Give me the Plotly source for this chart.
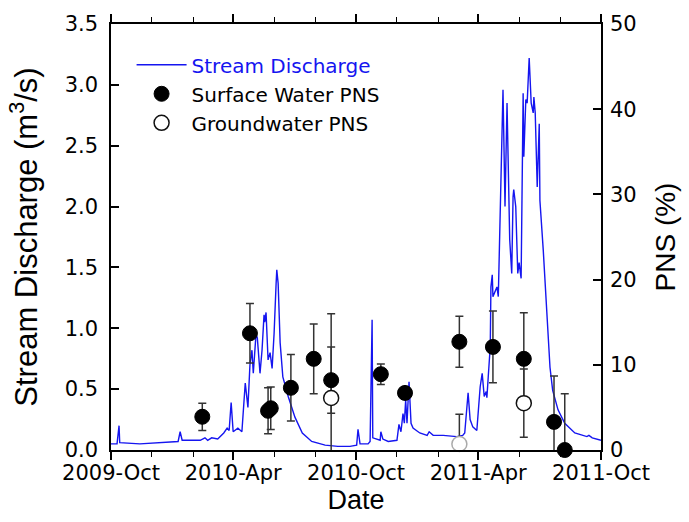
import plotly.graph_objects as go

# Stream discharge record (m3/s)
q_dates = [
    "2009-10-01", "2009-10-10", "2009-10-13", "2009-10-14", "2009-11-13", "2009-12-13",
    "2010-01-09", "2010-01-12", "2010-01-15", "2010-02-11", "2010-02-18", "2010-02-22",
    "2010-02-28", "2010-03-09", "2010-03-18", "2010-03-23", "2010-03-26", "2010-03-29",
    "2010-04-01", "2010-04-08", "2010-04-14", "2010-04-19", "2010-04-23", "2010-04-26",
    "2010-04-29", "2010-05-01", "2010-05-05", "2010-05-07", "2010-05-08", "2010-05-11",
    "2010-05-14", "2010-05-17", "2010-05-18", "2010-05-20", "2010-05-23", "2010-05-26",
    "2010-05-29", "2010-06-01", "2010-06-04", "2010-06-05", "2010-06-07", "2010-06-10",
    "2010-06-14", "2010-06-22", "2010-07-02", "2010-07-13", "2010-07-27", "2010-08-16",
    "2010-09-04", "2010-09-22", "2010-10-02", "2010-10-04", "2010-10-07", "2010-10-19",
    "2010-10-22", "2010-10-25", "2010-10-26", "2010-11-06", "2010-11-07", "2010-11-10",
    "2010-11-18", "2010-12-01", "2010-12-04", "2010-12-07", "2010-12-10", "2010-12-12",
    "2010-12-14", "2010-12-16", "2010-12-19", "2010-12-22", "2010-12-25", "2011-01-04",
    "2011-01-15", "2011-01-18", "2011-01-24", "2011-02-08", "2011-02-28", "2011-03-09",
    "2011-03-12", "2011-03-17", "2011-03-20", "2011-03-24", "2011-03-30", "2011-04-04",
    "2011-04-07", "2011-04-10", "2011-04-13", "2011-04-14", "2011-04-16", "2011-04-19",
    "2011-04-20", "2011-04-22", "2011-04-23", "2011-04-29", "2011-05-01", "2011-05-08",
    "2011-05-11", "2011-05-14", "2011-05-18", "2011-05-21", "2011-05-23", "2011-05-24",
    "2011-05-27", "2011-05-30", "2011-06-01", "2011-06-04", "2011-06-07", "2011-06-08",
    "2011-06-11", "2011-06-13", "2011-06-16", "2011-06-19", "2011-06-22", "2011-06-23",
    "2011-06-25", "2011-06-28", "2011-07-01", "2011-07-02", "2011-07-07", "2011-07-10",
    "2011-07-13", "2011-07-17", "2011-07-21", "2011-07-29", "2011-08-08", "2011-08-23",
    "2011-09-10", "2011-09-13", "2011-09-18", "2011-10-01",
]
q_values = [
    0.05, 0.05, 0.20, 0.06, 0.05, 0.06,
    0.07, 0.15, 0.08, 0.08, 0.10, 0.08,
    0.10, 0.09, 0.14, 0.18, 0.16, 0.39,
    0.15, 0.18, 0.15, 0.55, 0.35, 0.70,
    0.82, 0.63, 0.95, 0.92, 0.85, 0.63,
    0.82, 1.11, 1.05, 1.13, 0.74, 0.80,
    0.67, 0.96, 1.37, 1.48, 1.37, 0.88,
    0.60, 0.44, 0.27, 0.14, 0.07, 0.04,
    0.03, 0.03, 0.04, 0.17, 0.05, 0.05,
    0.07, 1.07, 0.10, 0.08, 0.15, 0.09,
    0.07, 0.08, 0.21, 0.15, 0.30, 0.22,
    0.41, 0.22, 0.56, 0.22, 0.18, 0.14,
    0.12, 0.15, 0.12, 0.12, 0.11, 0.12,
    0.14, 0.47, 0.25, 0.19, 0.16, 0.52,
    0.63, 0.44, 0.48, 0.43, 0.60, 0.85,
    1.34, 1.44, 1.26, 1.34, 1.26, 2.96,
    2.00, 2.85, 1.73, 1.45, 2.08, 2.14,
    2.00, 1.45, 1.54, 1.41, 2.93, 2.41,
    2.88, 2.85, 3.22, 2.85, 2.77, 2.90,
    2.77, 2.16, 2.68, 2.05, 1.64, 1.35,
    0.99, 0.68, 0.49, 0.33, 0.22, 0.14,
    0.11, 0.12, 0.10, 0.08,
]

# Surface water PNS (%) with error
sw_dates = [
    "2010-02-14", "2010-04-26", "2010-05-23", "2010-05-27", "2010-06-26", "2010-07-30",
    "2010-08-25", "2010-11-07", "2010-12-13", "2011-03-04", "2011-04-23", "2011-06-08",
    "2011-07-23", "2011-08-08",
]
sw_pns = [3.9, 13.7, 4.6, 4.9, 7.3, 10.7, 8.2, 8.9, 6.7, 12.7, 12.1, 10.7, 3.3, 0.0]
sw_err = [1.6, 3.5, 2.7, 2.5, 3.9, 4.1, 3.9, 1.2, 0.7, 3.0, 4.2, 5.4, 5.4, 6.6]

# Groundwater PNS (%) with error
gw_dates = ["2010-08-25", "2011-03-04", "2011-06-08"]
gw_pns = [6.1, 0.7, 5.5]
gw_err = [9.9, 3.5, 4.0]
gw_edge = ["#111111", "#aaaaaa", "#111111"]

x_ticks = ["2009-10-01", "2010-04-01", "2010-10-01", "2011-04-01", "2011-10-01"]
x_labels = ["2009-Oct", "2010-Apr", "2010-Oct", "2011-Apr", "2011-Oct"]

TICK_FONT = "DejaVu Sans, sans-serif"
TITLE_FONT = "Liberation Sans, Arial, sans-serif"
BLUE = "#1515f0"
ERR = "#333333"

fig = go.Figure()

fig.add_trace(go.Scatter(
    x=q_dates, y=q_values, mode="lines",
    line=dict(color=BLUE, width=1.4),
    name='<span style="color:#1515f0">Stream Discharge</span>',
))

# error bars (clipped to the plot area)
fig.add_trace(go.Scatter(
    x=sw_dates, y=sw_pns, yaxis="y2", mode="markers",
    marker=dict(size=1, opacity=0),
    error_y=dict(type="data", array=sw_err, color=ERR, thickness=1.5, width=4),
    showlegend=False, hoverinfo="skip", cliponaxis=True,
))
fig.add_trace(go.Scatter(
    x=gw_dates, y=gw_pns, yaxis="y2", mode="markers",
    marker=dict(size=1, opacity=0),
    error_y=dict(type="data", array=gw_err, color=ERR, thickness=1.5, width=4),
    showlegend=False, hoverinfo="skip", cliponaxis=True,
))

# markers
fig.add_trace(go.Scatter(
    x=sw_dates, y=sw_pns, yaxis="y2", mode="markers",
    marker=dict(size=15, color="black", line=dict(color="black", width=1)),
    name="Surface Water PNS", cliponaxis=False,
))
fig.add_trace(go.Scatter(
    x=gw_dates, y=gw_pns, yaxis="y2", mode="markers",
    marker=dict(size=15, color="white", line=dict(color=gw_edge, width=1.5)),
    name="Groundwater PNS", cliponaxis=False,
))

fig.update_layout(
    width=689, height=522,
    margin=dict(l=111, r=88, t=24, b=72, autoexpand=False),
    paper_bgcolor="white", plot_bgcolor="white",
    font=dict(family=TICK_FONT, size=21, color="black"),
    showlegend=True,
    legend=dict(
        x=0.042, y=0.95, xanchor="left", yanchor="top",
        bgcolor="rgba(0,0,0,0)", font=dict(size=20, family=TICK_FONT),
        tracegroupgap=0, itemwidth=50,
    ),
    xaxis=dict(
        type="date", automargin=False,
        range=["2009-10-01", "2011-10-01"],
        tickmode="array", tickvals=x_ticks, ticktext=x_labels,
        ticks="outside", ticklen=8, tickwidth=1.5, tickcolor="black",
        ticklabelstandoff=-5,
        showline=True, linecolor="black", linewidth=1.5, mirror="ticks",
        showgrid=False, zeroline=False,
        minor=dict(dtick="M2", tick0="2009-10-01", ticks="outside", ticklen=5,
                   tickwidth=1.2, tickcolor="black", showgrid=False),
        title=dict(text="Date", font=dict(size=27, family=TITLE_FONT), standoff=4),
        tickfont=dict(size=21),
    ),
    yaxis=dict(
        automargin=False,
        range=[0, 3.5], dtick=0.5, tick0=0, tickformat=".1f",
        ticks="inside", ticklen=8, tickwidth=1.5, tickcolor="black",
        ticklabelstandoff=7,
        showline=True, linecolor="black", linewidth=1.5,
        showgrid=False, zeroline=False,
        title=dict(text="Stream Discharge (m<sup>3</sup>/s)",
                   font=dict(size=31, family=TITLE_FONT), standoff=18),
        tickfont=dict(size=21),
    ),
    yaxis2=dict(
        overlaying="y", side="right", automargin=False,
        range=[0, 50], dtick=10, tick0=0,
        ticks="inside", ticklen=8, tickwidth=1.5, tickcolor="black",
        ticklabelstandoff=3,
        showline=True, linecolor="black", linewidth=1.5,
        showgrid=False, zeroline=False,
        title=dict(text="PNS (%)", font=dict(size=28, family=TITLE_FONT), standoff=20),
        tickfont=dict(size=21),
    ),
)

fig.write_html("out.html")
